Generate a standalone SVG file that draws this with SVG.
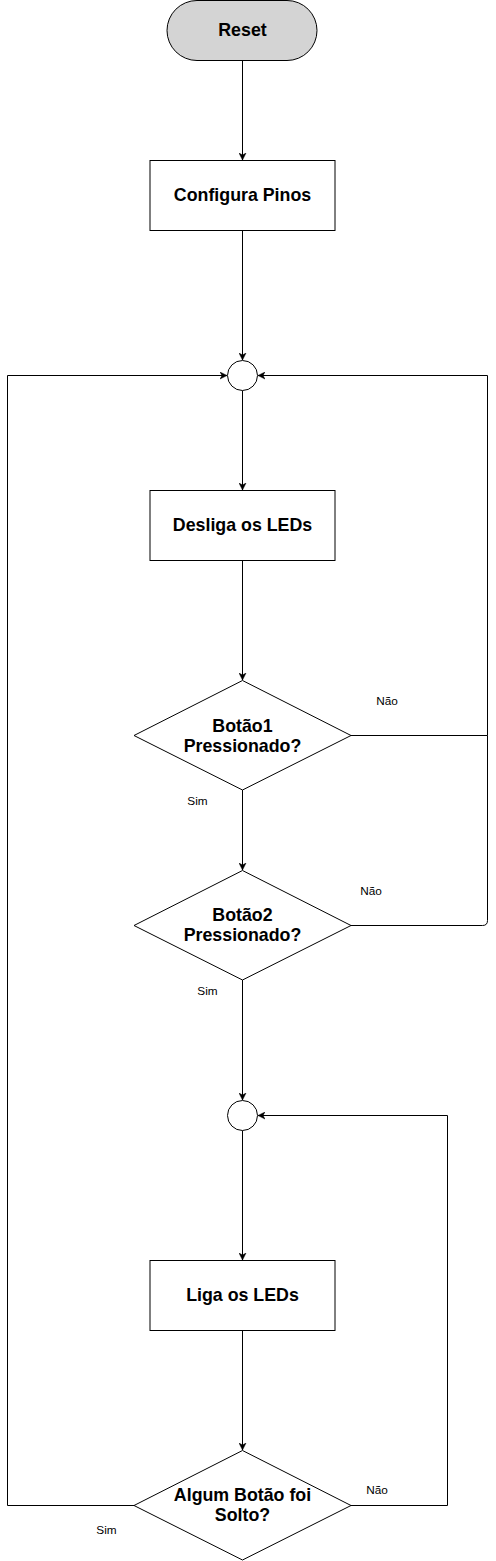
<svg xmlns="http://www.w3.org/2000/svg" width="496" height="1561" viewBox="0 0 496 1561">
<style>
.shape{fill:#fff;stroke:#000;stroke-width:1}
.term{fill:#d4d4d4;stroke:#000;stroke-width:1}
.t{font-family:"Liberation Sans",Arial,sans-serif;font-size:17.8px;font-weight:bold;fill:#000;text-anchor:middle}
.l{font-family:"Liberation Sans",Arial,sans-serif;font-size:11.8px;fill:#000;text-anchor:middle}
.c{fill:none;stroke:#000;stroke-width:1}
</style>
<defs>
<marker id="arr" markerWidth="8" markerHeight="8" refX="7" refY="4" orient="auto" markerUnits="userSpaceOnUse">
<path d="M0,0.5 L7,4 L0,7.5 L2,4 Z" fill="#000" stroke="#000" stroke-width="0.5"/>
</marker>
</defs>
<rect width="496" height="1561" fill="#fff"/>
<g id="connectors">
<path class="c" d="M242.5,60.5 V160" marker-end="url(#arr)"/>
<path class="c" d="M242.5,230.5 V360" marker-end="url(#arr)"/>
<path class="c" d="M242.5,390.5 V490" marker-end="url(#arr)"/>
<path class="c" d="M242.5,560.5 V680" marker-end="url(#arr)"/>
<path class="c" d="M242.5,790 V870" marker-end="url(#arr)"/>
<path class="c" d="M242.5,980 V1100" marker-end="url(#arr)"/>
<path class="c" d="M242.5,1130.5 V1260" marker-end="url(#arr)"/>
<path class="c" d="M242.5,1330.5 V1450" marker-end="url(#arr)"/>
<path class="c" d="M351,735.5 H487.5 V375.5 H258" marker-end="url(#arr)"/>
<path class="c" d="M351,925.5 H482.5 Q487.5,925.5 487.5,920.5 V735.5"/>
<path class="c" d="M134,1505.5 H7.5 V375.5 H227" marker-end="url(#arr)"/>
<path class="c" d="M351,1505.5 H447.5 V1115.5 H258" marker-end="url(#arr)"/>
<text class="l" x="387" y="705">Não</text>
<text class="l" x="197.5" y="805">Sim</text>
<text class="l" x="371" y="895">Não</text>
<text class="l" x="207.5" y="995">Sim</text>
<text class="l" x="377" y="1494">Não</text>
<text class="l" x="106.5" y="1534">Sim</text>
</g>
<g id="reset">
<rect class="term" x="167" y="0.5" width="150" height="60" rx="30" ry="30"/>
<text class="t" x="242.5" y="36">Reset</text>
</g>
<g id="configura">
<rect class="shape" x="150" y="160.5" width="185" height="70"/>
<text class="t" x="242.5" y="201">Configura Pinos</text>
</g>
<g id="junction1">
<circle class="shape" cx="242.5" cy="375.5" r="15"/>
</g>
<g id="desliga">
<rect class="shape" x="150" y="490.5" width="185" height="70"/>
<text class="t" x="242.5" y="531">Desliga os LEDs</text>
</g>
<g id="botao1">
<polygon class="shape" points="242.5,680.5 351,735.5 242.5,790 134,735.5"/>
<text class="t" x="242.5" y="731.5">Botão1</text>
<text class="t" x="242.5" y="751.5">Pressionado?</text>
</g>
<g id="botao2">
<polygon class="shape" points="242.5,870.5 351,925.5 242.5,980 134,925.5"/>
<text class="t" x="242.5" y="921">Botão2</text>
<text class="t" x="242.5" y="941">Pressionado?</text>
</g>
<g id="junction2">
<circle class="shape" cx="242.5" cy="1115.5" r="15"/>
</g>
<g id="liga">
<rect class="shape" x="150" y="1260.5" width="185" height="70"/>
<text class="t" x="242.5" y="1301">Liga os LEDs</text>
</g>
<g id="solto">
<polygon class="shape" points="242.5,1450.5 351,1505.5 242.5,1560 134,1505.5"/>
<text class="t" x="242.5" y="1501">Algum Botão foi</text>
<text class="t" x="242.5" y="1521">Solto?</text>
</g>
</svg>
